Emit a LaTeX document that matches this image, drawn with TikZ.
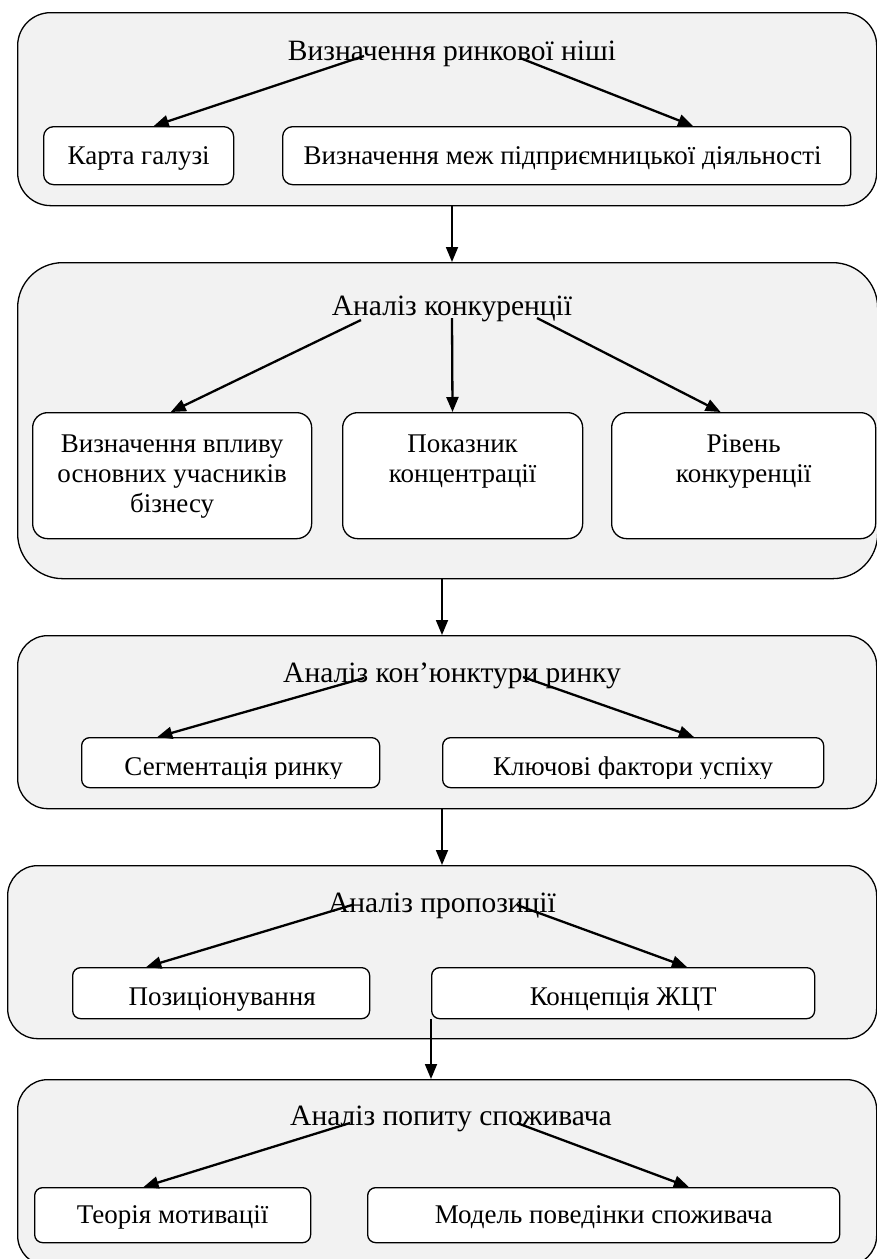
\documentclass[tikz,border=0pt]{standalone}
\usepackage{fontspec}
\setmainfont{Liberation Serif}
\usetikzlibrary{arrows.meta,calc}
\definecolor{panelfill}{HTML}{F2F2F2}
\begin{document}
\begin{tikzpicture}[x=1pt,y=-1pt,
  panel/.style={draw=black,line width=1.3pt,fill=panelfill,inner sep=0pt,anchor=north west},
  card/.style={draw=black,line width=1.3pt,fill=white,inner sep=0pt,anchor=north west,rounded corners=10pt},
  head/.style={font=\fontsize{29.5}{34}\selectfont,inner sep=0pt,anchor=base},
  txt/.style={font=\fontsize{27}{30}\selectfont,inner sep=0pt,anchor=base},
  mtxt/.style={font=\fontsize{27}{30}\selectfont,inner sep=0pt,anchor=north,align=center},
  arr/.style={-{Triangle[length=15pt,width=12pt]},line width=2.3pt},
  link/.style={-{Triangle[length=15pt,width=12pt]},line width=1.8pt}]
\useasboundingbox (0,0) rectangle (877,1259);

% stage panels
\node[panel,rounded corners=33pt,minimum width=859pt,minimum height=193pt] (p1) at (17,12) {};
\node[panel,rounded corners=45pt,minimum width=860pt,minimum height=316pt] (p2) at (17,262) {};
\node[panel,rounded corners=30pt,minimum width=859pt,minimum height=173pt] (p3) at (17,635) {};
\node[panel,rounded corners=30pt,minimum width=869pt,minimum height=173pt] (p4) at (7,865) {};
\node[panel,rounded corners=30pt,minimum width=859pt,minimum height=186pt] (p5) at (17,1079) {};

% sub-step cards
\node[card,minimum width=190pt,minimum height=58pt] (b11) at (43,126) {};
\node[card,minimum width=568pt,minimum height=58pt] (b12) at (282,126) {};
\node[card,rounded corners=15pt,minimum width=279pt,minimum height=126pt] (b21) at (32,412) {};
\node[card,rounded corners=15pt,minimum width=240pt,minimum height=126pt] (b22) at (342,412) {};
\node[card,rounded corners=15pt,minimum width=264pt,minimum height=126pt] (b23) at (611,412) {};
\node[card,rounded corners=8pt,minimum width=298pt,minimum height=50pt] (b31) at (81,737) {};
\node[card,rounded corners=8pt,minimum width=381pt,minimum height=50pt] (b32) at (442,737) {};
\node[card,rounded corners=8pt,minimum width=297pt,minimum height=51pt] (b41) at (72,967) {};
\node[card,rounded corners=8pt,minimum width=383pt,minimum height=51pt] (b42) at (431,967) {};
\node[card,rounded corners=8pt,minimum width=276pt,minimum height=55pt] (b51) at (34,1187) {};
\node[card,rounded corners=8pt,minimum width=472pt,minimum height=55pt] (b52) at (367,1187) {};

% stage titles
\node[head] (t1) at (452,60) {Визначення ринкової ніші};
\node[head] (t2) at (452,315) {Аналіз конкуренції};
\node[head] (t3) at (452,682) {Аналіз кон’юнктури ринку};
\node[head] (t4) at (442,912) {Аналіз пропозиції};
\node[head] (t5) at (451,1125) {Аналіз попиту споживача};

% card labels
\node[txt] (l11) at ($(b11.north)+(0,38)$) {Карта галузі};
\node[txt] (l12) at ($(b12.north)+(-4,38)$) {Визначення меж підприємницької діяльності};
\node[mtxt] (l21) at ($(b21.north)+(0,19)$) {\strut Визначення впливу\\основних учасників\\бізнесу};
\node[mtxt] (l22) at ($(b22.north)+(0,19)$) {\strut Показник\\концентрації};
\node[mtxt] (l23) at ($(b23.north)+(0,19)$) {\strut Рівень\\конкуренції};
% the market-condition labels sit in a text frame that cuts off their descenders
\begin{scope}
  \clip ($(b31.north west)+(0,0)$) rectangle ($(b32.north east)+(0,41)$);
  \node[txt] (l31) at ($(b31.north)+(3,38)$) {Сегментація ринку};
  \node[txt] (l32) at ($(b32.north)+(0,38)$) {Ключові фактори успіху};
\end{scope}
\node[txt] (l41) at ($(b41.north)+(1,38)$) {Позиціонування};
\node[txt] (l42) at ($(b42.north)+(0,38)$) {Концепція ЖЦТ};
\node[txt] (l51) at ($(b51.north)+(0,36)$) {Теорія мотивації};
\node[txt] (l52) at ($(b52.north)+(0,36)$) {Модель поведінки споживача};

% arrows from each stage title to its sub-steps
\draw[arr] ($(t1.base)+(-88,-4)$) -- ($(b11.north west)!0.579!(b11.north east)$);
\draw[arr] ($(t1.base)+(68,-2)$) -- ($(b12.north west)!0.722!(b12.north east)$);
\draw[arr] ($(t2.base)+(-91,5)$) -- ($(b21.north west)!0.495!(b21.north east)$);
\draw[arr] ($(t2.base)+(0,3)$) -- ($(b22.north west)!0.458!(b22.north east)$);
\draw[arr] ($(t2.base)+(85,3)$) -- ($(b23.north west)!0.413!(b23.north east)$);
\draw[arr] ($(t3.base)+(-88,-4)$) -- ($(b31.north west)!0.255!(b31.north east)$);
\draw[arr] ($(t3.base)+(71,-5)$) -- ($(b32.north west)!0.659!(b32.north east)$);
\draw[arr] ($(t4.base)+(-90,-7)$) -- ($(b41.north west)!0.249!(b41.north east)$);
\draw[arr] ($(t4.base)+(75,-7)$) -- ($(b42.north west)!0.666!(b42.north east)$);
\draw[arr] ($(t5.base)+(-101,-2)$) -- ($(b51.north west)!0.395!(b51.north east)$);
\draw[arr] ($(t5.base)+(66,-2)$) -- ($(b52.north west)!0.680!(b52.north east)$);

% arrows between stages
\coordinate (c12) at (452,0);
\coordinate (c23) at (442,0);
\coordinate (c34) at (442,0);
\draw[link] (p1.south -| c12) -- (p2.north -| c12);
\draw[link] (p2.south -| c23) -- (p3.north -| c23);
\draw[link] (p3.south -| c34) -- (p4.north -| c34);
\draw[link] (b42.south west) -- (b42.south west |- p5.north);
\end{tikzpicture}
\end{document}
